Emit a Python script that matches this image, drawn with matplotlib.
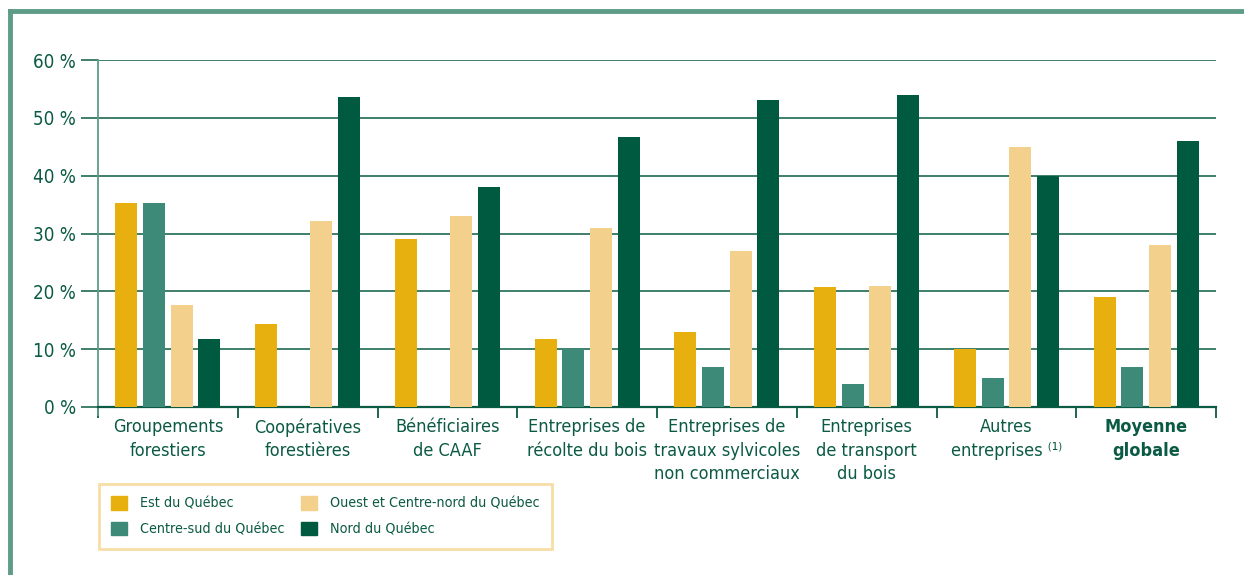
import numpy as np
import matplotlib
matplotlib.use('Agg')
import matplotlib.pyplot as plt
from matplotlib.patches import Patch

# Donnees (% par region)
categories = ['Groupements\nforestiers', 'Coopératives\nforestières', 'Bénéficiaires\nde CAAF',
              'Entreprises de\nrécolte du bois', 'Entreprises de\ntravaux sylvicoles\nnon commerciaux',
              'Entreprises\nde transport\ndu bois', 'Autres\nentreprises ⁽¹⁾', 'Moyenne\nglobale']
est = [35.3, 14.3, 29.0, 11.7, 13.0, 20.7, 10.0, 19.0]
centre_sud = [35.3, 0, 0, 10.0, 7.0, 4.0, 5.0, 7.0]
ouest = [17.6, 32.1, 33.0, 31.0, 27.0, 21.0, 45.0, 28.0]
nord = [11.8, 53.6, 38.0, 46.7, 53.0, 54.0, 40.0, 46.0]
series_noms = ['Est du Québec', 'Centre-sud du Québec', 'Ouest et Centre-nord du Québec', 'Nord du Québec']
couleurs = ['#E8B00E', '#3E8A78', '#F3D08C', '#005A40']
yticks = [0, 10, 20, 30, 40, 50, 60]

vert = '#0B5A43'
fs = dict(family='DejaVu Sans', stretch='condensed')

fig = plt.figure(figsize=(12.44, 5.75), dpi=100)
ax = fig.add_axes([98/1244, 1-407/575, (1216-98)/1244, (407-60)/575])

x = np.arange(len(categories))
larg = 0.157
pas = 0.198
for i, (vals, c) in enumerate(zip([est, centre_sud, ouest, nord], couleurs)):
    ax.bar(x + (i - 1.5) * pas, vals, width=larg, color=c, zorder=3)

ax.set_xlim(-0.5, len(categories) - 0.5)
ax.set_ylim(0, 60)
ax.set_yticks(yticks)
ax.set_yticklabels([f'{v} %' for v in yticks], color=vert, fontsize=13.5, **fs)
ax.yaxis.grid(True, color='#2E7560', lw=1.3, zorder=0)
ax.tick_params(axis='y', length=12, width=1.3, color='#2E7560', pad=4)

ax.set_xticks(x)
ax.set_xticklabels(categories, color=vert, fontsize=13, va='top', linespacing=1.4, **fs)
ax.set_xticks(np.arange(len(categories) + 1) - 0.5, minor=True)
ax.tick_params(axis='x', which='major', length=0, pad=8)
ax.tick_params(axis='x', which='minor', length=8, width=1.3, color=vert)
ax.get_xticklabels()[-1].set_fontweight('bold')

for s in ['top', 'right']:
    ax.spines[s].set_visible(False)
ax.spines['left'].set_color('#5E9C88')
ax.spines['left'].set_linewidth(1.3)
ax.spines['left'].set_bounds(-1.3, 60)
ax.spines['bottom'].set_color(vert)
ax.spines['bottom'].set_linewidth(1.6)

# Cadre de la figure
fig.add_artist(plt.Line2D([10/1244, 1], [1-11/575, 1-11/575], color='#5E9C88', lw=3.5, transform=fig.transFigure))
fig.add_artist(plt.Line2D([10/1244, 10/1244], [0, 1-11/575], color='#5E9C88', lw=3.5, transform=fig.transFigure))

# Legende
poignees = [Patch(color=couleurs[k], label=series_noms[k]) for k in [0, 1, 2, 3]]
leg = fig.legend(handles=poignees, ncol=2, loc='upper left',
                 bbox_to_anchor=(99/1244, 1-484/575), borderaxespad=0, frameon=True, fancybox=False,
                 handlelength=1.1, handleheight=1.1, columnspacing=1.2, handletextpad=0.9,
                 labelspacing=0.75, borderpad=0.85,
                 prop=dict(size=10.3, family='DejaVu Sans', stretch='condensed'))
leg.get_frame().set_edgecolor('#F5D690')
leg.get_frame().set_linewidth(2)
for t in leg.get_texts():
    t.set_color(vert)

fig.savefig('out.png', dpi=100)
